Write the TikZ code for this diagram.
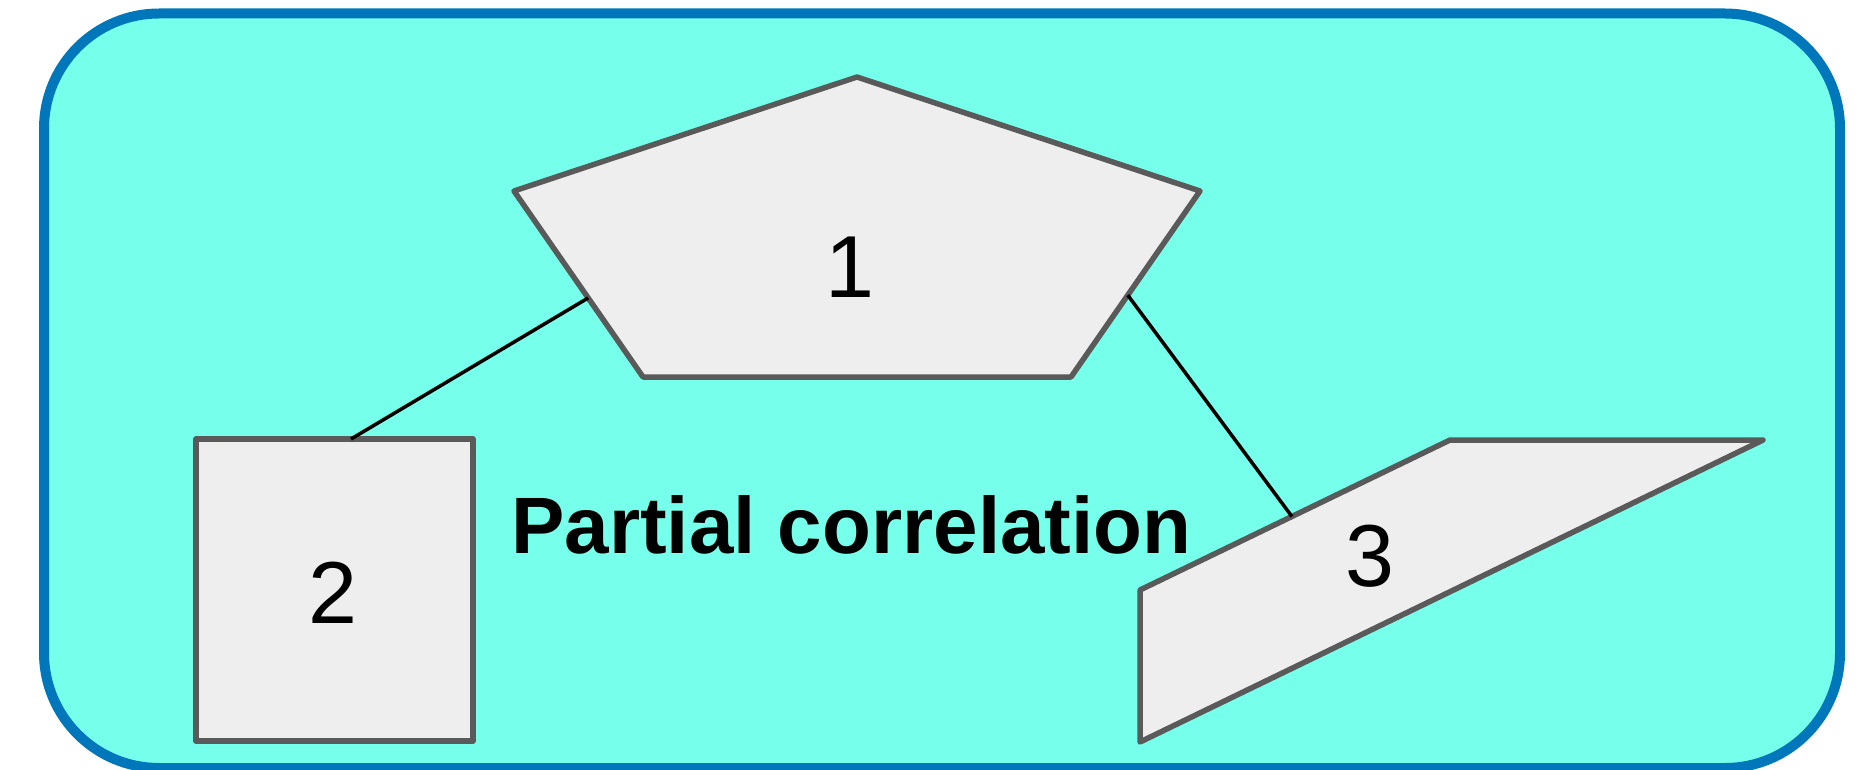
\documentclass[tikz,border=0pt]{standalone}
\usepackage{fontspec}
\setmainfont{Liberation Sans}
\usetikzlibrary{calc}
\definecolor{bgcyan}{RGB}{118,255,234}
\definecolor{bordblue}{RGB}{0,119,187}
\definecolor{shapefill}{RGB}{238,238,238}
\definecolor{shapeline}{RGB}{90,90,90}
\tikzset{
  frame/.style={draw=bordblue, fill=bgcyan, line width=10pt, rounded corners=115pt},
  shapebox/.style={draw=shapeline, fill=shapefill, line width=5.5pt, line join=round},
  numlabel/.style={inner sep=0pt, font=\fontsize{88}{88}\selectfont},
  titlelabel/.style={inner sep=0pt, font=\fontsize{80}{80}\selectfont\bfseries},
  link/.style={draw=black, line width=3.5pt}
}
\begin{document}
\begin{tikzpicture}[x=1pt,y=-1pt]
\useasboundingbox (0,0) rectangle (1865,770);
\begin{scope}
\clip (0,0) rectangle (1865,770);
\path[frame] (44,13.5) rectangle (1840,768);
\end{scope}
% pentagon (1)
\coordinate (pt) at (857,77);
\coordinate (pl) at (514,191);
\coordinate (pr) at (1200,191);
\coordinate (pbl) at (643,377);
\coordinate (pbr) at (1071,377);
\path[shapebox] (pt) -- (pr) -- (pbr) -- (pbl) -- (pl) -- cycle;
\node[numlabel] (n1) at (850,267) {1};
% square (2)
\path[shapebox] (196,439) rectangle (473,741);
\node[numlabel] (n2) at (333,593) {2};
% slanted shape (3)
\coordinate (qa) at (1140,590);
\coordinate (qb) at (1450,440);
\coordinate (qc) at (1763,440);
\coordinate (qd) at (1140,742);
\path[shapebox] (qa) -- (qb) -- (qc) -- (qd) -- cycle;
\node[numlabel] (n3) at (1370,556) {3};
% title
\node[titlelabel, anchor=base west] (title) at (511,553) {Partial correlation};
% connectors
\coordinate (c1a) at ($(pl)!0.575!(pbl)$);
\coordinate (c2) at (351,439);
\coordinate (c1b) at ($(pr)!0.56!(pbr)$);
\coordinate (c3) at ($(qa)!0.49!(qb)$);
\draw[link] (c1a) -- (c2);
\draw[link] (c1b) -- (c3);
\end{tikzpicture}
\end{document}
